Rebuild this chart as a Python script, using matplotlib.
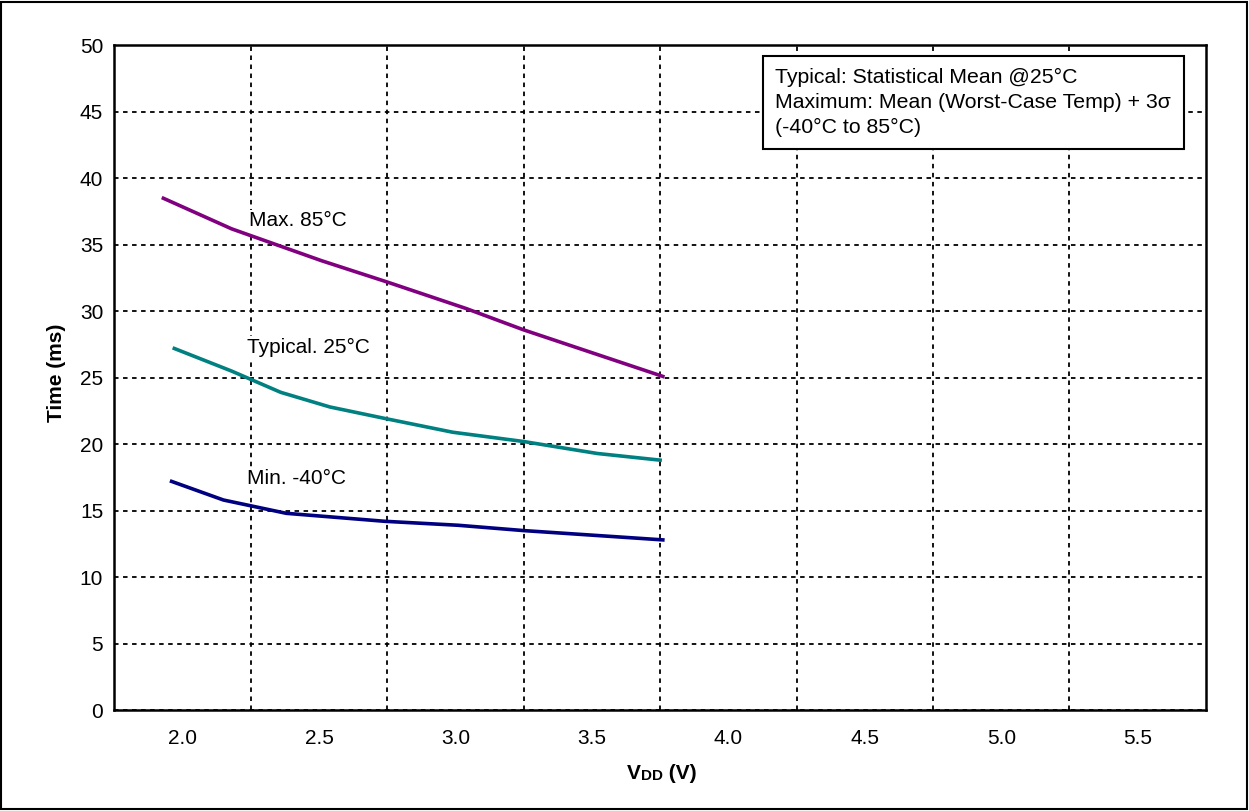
import matplotlib.pyplot as plt
from matplotlib.patches import Rectangle

# === Data ===
vdd_max = [1.93, 2.18, 2.51, 2.75, 3.04, 3.25, 3.76]
t_max = [38.5, 36.2, 33.8, 32.2, 30.2, 28.6, 25.1]

vdd_typ = [1.97, 2.18, 2.36, 2.54, 2.75, 2.99, 3.25, 3.52, 3.75]
t_typ = [27.2, 25.5, 23.9, 22.8, 21.9, 20.9, 20.2, 19.3, 18.8]

vdd_min = [1.96, 2.15, 2.38, 2.74, 3.01, 3.25, 3.76]
t_min = [17.2, 15.8, 14.8, 14.2, 13.9, 13.5, 12.8]

x_ticks = [2.0, 2.5, 3.0, 3.5, 4.0, 4.5, 5.0, 5.5]
x_grid = [2.25, 2.75, 3.25, 3.75, 4.25, 4.75, 5.25]
y_ticks = list(range(0, 55, 5))

fs = 15
plt.rcParams['font.family'] = ['Liberation Sans', 'DejaVu Sans']

fig = plt.figure(figsize=(12.49, 8.11), dpi=100)
ax = fig.add_axes([0.0915, 0.1245, 0.874, 0.8195])

ax.plot(vdd_max, t_max, color='#800080', linewidth=2.6, zorder=3)
ax.plot(vdd_typ, t_typ, color='#008080', linewidth=2.6, zorder=3)
ax.plot(vdd_min, t_min, color='#000080', linewidth=2.6, zorder=3)

ax.set_xlim(1.75, 5.75)
ax.set_ylim(0, 50)
ax.set_xticks(x_ticks)
ax.set_xticklabels([f'{v:.1f}' for v in x_ticks], fontsize=fs)
ax.set_xticks(x_grid, minor=True)
ax.set_yticks(y_ticks)
ax.set_yticklabels([str(v) for v in y_ticks], fontsize=fs)
ax.tick_params(which='both', length=0)
ax.tick_params(axis='x', pad=14)
ax.tick_params(axis='y', pad=8)

# grid: horizontal at major y, vertical at minor x
ax.yaxis.grid(True, which='major', color='black', linestyle=(0, (2.5, 2.5)), linewidth=1.3)
ax.xaxis.grid(True, which='minor', color='black', linestyle=(0, (2.5, 2.5)), linewidth=1.3)
ax.xaxis.grid(False, which='major')
ax.set_axisbelow(True)
for s in ax.spines.values():
    s.set_linewidth(1.8)

# curve labels
bg = dict(facecolor='white', edgecolor='none', pad=1)
ax.text(2.245, 36.8, 'Max. 85°C', fontsize=fs, ha='left', va='center', bbox=bg, zorder=2)
ax.text(2.235, 27.3, 'Typical. 25°C', fontsize=fs, ha='left', va='center', bbox=bg, zorder=2)
ax.text(2.235, 17.4, 'Min. -40°C', fontsize=fs, ha='left', va='center', bbox=bg, zorder=2)

# note box
ax.text(0.6055, 0.9655,
        'Typical: Statistical Mean @25°C\n'
        'Maximum: Mean (Worst-Case Temp) + 3\u03c3\n'
        '(-40°C to 85°C)',
        transform=ax.transAxes, fontsize=fs + 0.3, ha='left', va='top', linespacing=1.38,
        bbox=dict(facecolor='white', edgecolor='black', linewidth=1.5, pad=9), zorder=4)

# axis labels
ax.set_ylabel('Time (ms)', fontsize=fs, fontweight='bold')
ax.yaxis.set_label_coords(-0.044, 0.507)
t1 = fig.text(0.502, 0.0395, 'V', fontsize=fs, fontweight='bold', ha='left', va='baseline')
t2 = ax.annotate('DD', xy=(1, 0), xycoords=t1, fontsize=fs - 4, fontweight='bold',
                 ha='left', va='bottom')
ax.annotate(' (V)', xy=(1, 0), xycoords=t2, fontsize=fs, fontweight='bold',
            ha='left', va='bottom')

# outer border
fig.patches.append(Rectangle((0.001, 0.002), 0.997, 0.996, transform=fig.transFigure,
                             fill=False, edgecolor='black', linewidth=1.5))

plt.savefig('out.png', dpi=100)
